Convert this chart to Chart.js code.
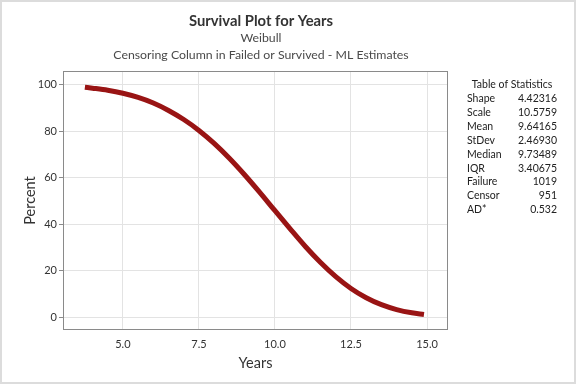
<!DOCTYPE html>
<html><head><meta charset="utf-8">
<script src="https://cdn.jsdelivr.net/npm/chart.js@4.4.1/dist/chart.umd.min.js"></script>
<style>html,body{margin:0;padding:0;background:#fff}#wrap{width:576px;height:384px;position:relative}</style>
</head><body><div id="wrap"><canvas id="c" width="576" height="384"></canvas></div>
<script>
const years   = [3.75, 4.0, 4.5, 5.0, 5.5, 6.0, 6.5, 7.0, 7.5, 8.0, 8.5, 9.0, 9.5, 10.0, 10.5, 11.0, 11.5, 12.0, 12.5, 13.0, 13.5, 14.0, 14.5, 14.9];
const percent = [99.0, 98.6, 97.7, 96.4, 94.6, 92.2, 89.0, 85.1, 80.4, 74.8, 68.4, 61.3, 53.7, 45.8, 38.0, 30.4, 23.5, 17.4, 12.3, 8.3, 5.3, 3.2, 1.8, 1.1];
const xTicks = [5.0, 7.5, 10.0, 12.5, 15.0];
const yTicks = [0, 20, 40, 60, 80, 100];
const statLabels = ["Shape", "Scale", "Mean", "StDev", "Median", "IQR", "Failure", "Censor", "AD*"];
const statValues = ["4.42316", "10.5759", "9.64165", "2.46930", "9.73489", "3.40675", "1019", "951", "0.532"];
const titleText = "Survival Plot for Years";
const subtitle1 = "Weibull";
const subtitle2 = "Censoring Column in Failed or Survived - ML Estimates";

const FONT = "Lato, 'Open Sans', sans-serif";

const decor = {
  id: 'decor',
  beforeDraw(chart) {
    const ctx = chart.ctx;
    ctx.save();
    ctx.fillStyle = '#fff';
    ctx.fillRect(0, 0, chart.width, chart.height);
    ctx.restore();
  },
  afterDraw(chart) {
    const ctx = chart.ctx, a = chart.chartArea;
    ctx.save();
    ctx.strokeStyle = '#8a8a8a';
    ctx.lineWidth = 1;
    ctx.strokeRect(Math.round(a.left) + 0.5, Math.round(a.top) + 0.5, Math.round(a.right - a.left) - 1, Math.round(a.bottom - a.top) - 1);
    ctx.strokeStyle = '#dcdcdc';
    ctx.lineWidth = 2;
    ctx.strokeRect(1, 1, chart.width - 2, chart.height - 2);
    ctx.textAlign = 'center';
    ctx.textBaseline = 'alphabetic';
    ctx.fillStyle = '#333';
    ctx.font = "bold 14.8px " + FONT;
    ctx.fillText(titleText, 261, 26);
    ctx.fillStyle = '#4a4a4a';
    ctx.font = "12.3px " + FONT;
    ctx.fillText(subtitle1, 261, 42);
    ctx.fillText(subtitle2, 261, 59);
    ctx.fillStyle = '#333';
    ctx.font = "14.5px " + FONT;
    ctx.fillText("Years", (a.left + a.right) / 2, 368);
    ctx.save();
    ctx.translate(35, (a.top + a.bottom) / 2);
    ctx.rotate(-Math.PI / 2);
    ctx.fillText("Percent", 0, 0);
    ctx.restore();
    ctx.fillStyle = '#222';
    ctx.font = "10.5px " + FONT;
    ctx.textAlign = 'center';
    ctx.fillText("Table of Statistics", 512, 88);
    for (let i = 0; i < statLabels.length; i++) {
      const y = 102 + i * 13.9;
      ctx.textAlign = 'left';
      ctx.fillText(statLabels[i], 467, y);
      ctx.textAlign = 'right';
      ctx.fillText(statValues[i], 557, y);
    }
    ctx.restore();
  }
};

new Chart(document.getElementById('c'), {
  type: 'scatter',
  data: {
    datasets: [{
      data: years.map((x, i) => ({ x: x, y: percent[i] })),
      showLine: true,
      borderColor: '#991414',
      borderWidth: 5,
      pointRadius: 0,
      cubicInterpolationMode: 'monotone',
      borderCapStyle: 'butt'
    }]
  },
  options: {
    responsive: false,
    animation: false,
    events: [],
    layout: { padding: { left: 0, right: 128, top: 71, bottom: 0 } },
    plugins: { legend: { display: false }, tooltip: { enabled: false }, title: { display: false } },
    scales: {
      x: {
        type: 'linear', min: 3.03, max: 15.69,
        afterBuildTicks: s => { s.ticks = xTicks.map(v => ({ value: v })); },
        afterFit: s => { s.height = 54; },
        border: { display: false },
        grid: { color: '#e3e3e3', drawTicks: false },
        ticks: { color: '#333', font: { family: FONT, size: 11 }, padding: 8, maxRotation: 0,
                 callback: v => Number(v).toFixed(1) }
      },
      y: {
        min: -5.6, max: 106,
        afterBuildTicks: s => { s.ticks = yTicks.map(v => ({ value: v })); },
        afterFit: s => { s.width = 63; },
        border: { display: false },
        grid: { color: '#e3e3e3', tickColor: '#8a8a8a', tickLength: 4 },
        ticks: { color: '#333', font: { family: FONT, size: 11 }, padding: 2 }
      }
    }
  },
  plugins: [decor]
});
</script></body></html>
